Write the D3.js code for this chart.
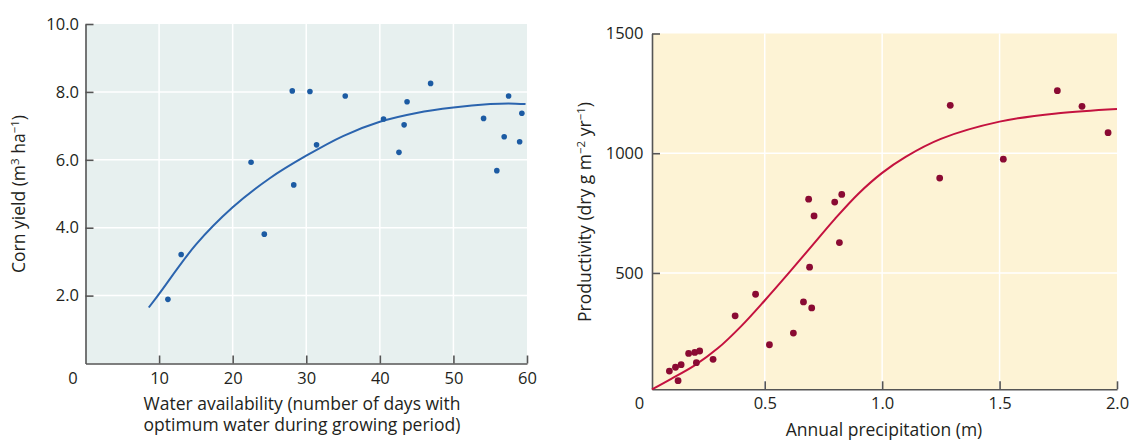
<!DOCTYPE html>
<html>
<head>
<meta charset="utf-8">
<script src="https://cdn.jsdelivr.net/npm/d3@7"></script>
<style>
  html, body { margin: 0; padding: 0; background: #ffffff; }
  svg { display: block; }
  text { font-family: "Open Sans", "Noto Sans", sans-serif; fill: #231f20; }
</style>
</head>
<body>
<svg id="chart" width="1129" height="441"></svg>
<script>
// ---------- Data: left panel (corn yield vs water availability) ----------
const cornDays  = [11.2, 13.0, 22.5, 24.3, 28.1, 28.3, 30.5, 31.4, 35.3, 40.5, 42.6, 43.3, 43.7, 46.9, 54.1, 55.9, 56.9, 57.5, 59.0, 59.3];
const cornYield = [1.89, 3.21, 5.93, 3.81, 8.03, 5.26, 8.01, 6.44, 7.88, 7.20, 6.22, 7.03, 7.71, 8.25, 7.22, 5.68, 6.68, 7.88, 6.53, 7.37];
const cornFitDays  = [8.6, 10, 15, 20, 25, 30, 35, 40, 45, 50, 55, 57.5, 59.8];
const cornFitYield = [1.65, 2.05, 3.5, 4.6, 5.45, 6.12, 6.7, 7.12, 7.38, 7.54, 7.64, 7.66, 7.64];
const cornXTicks = [10, 20, 30, 40, 50, 60];
const cornYTicks = [2, 4, 6, 8, 10];
const cornXDomain = [0, 60];
const cornYDomain = [0, 10];

// ---------- Data: right panel (productivity vs precipitation) ----------
const precip = [0.094, 0.120, 0.144, 0.131, 0.176, 0.202, 0.223, 0.209, 0.280, 0.374, 0.461, 0.520, 0.622, 0.665, 0.700, 0.691, 0.687, 0.710, 0.798, 0.828, 0.818, 1.245, 1.290, 1.516, 1.746, 1.851, 1.962];
const productivity = [90, 106, 117, 50, 164, 168, 174, 125, 139, 321, 411, 200, 249, 379, 354, 524, 808, 738, 796, 828, 627, 896, 1200, 975, 1261, 1196, 1086];
const prodFitPrecip = [0.02, 0.1, 0.2, 0.3, 0.4, 0.5, 0.6, 0.7, 0.8, 0.9, 1.0, 1.1, 1.25, 1.5, 1.75, 2.0];
const prodFitValue  = [14, 57, 113, 185, 278, 385, 497, 612, 727, 832, 918, 985, 1060, 1132, 1167, 1185];
const precipTicks = [0.5, 1.0, 1.5, 2.0];
const prodTicks = [500, 1000, 1500];
const precipDomain = [0.02, 2.0];
const prodDomain = [14, 1500];

const svg = d3.select("#chart");
const FS = 16.5;   // tick labels
const TS = 17.5;   // axis titles

function panel(cfg) {
  const g = svg.append("g");
  const x = d3.scaleLinear().domain(cfg.xDomain).range(cfg.xRange);
  const y = d3.scaleLinear().domain(cfg.yDomain).range(cfg.yRange);
  const [x0, x1] = cfg.xRange, [y0, y1] = cfg.yRange;

  g.append("rect").attr("x", x0).attr("y", y1).attr("width", x1 - x0).attr("height", y0 - y1).attr("fill", cfg.bg);

  // gridlines
  g.append("g").selectAll("line").data(cfg.xTicks.filter(t => x(t) < x1 - 1)).join("line")
    .attr("x1", d => x(d)).attr("x2", d => x(d)).attr("y1", y1).attr("y2", y0)
    .attr("stroke", "#ffffff").attr("stroke-width", 1.5);
  g.append("g").selectAll("line").data(cfg.yTicks.filter(t => y(t) > y1 + 1)).join("line")
    .attr("y1", d => y(d)).attr("y2", d => y(d)).attr("x1", x0).attr("x2", x1)
    .attr("stroke", "#ffffff").attr("stroke-width", 1.5);

  // axes
  const xa = g.append("g").attr("transform", `translate(0,${y0})`)
    .call(d3.axisBottom(x).tickValues(cfg.xTicks).tickFormat(cfg.xFmt).tickSize(-8).tickSizeOuter(0).tickPadding(cfg.xPad));
  const ya = g.append("g").attr("transform", `translate(${x0},0)`)
    .call(d3.axisLeft(y).tickValues(cfg.yTicks).tickFormat(cfg.yFmt).tickSize(-8).tickSizeOuter(0).tickPadding(cfg.yPad));
  [xa, ya].forEach(a => {
    a.select(".domain").attr("stroke", "#555555").attr("stroke-width", 1.6);
    a.selectAll(".tick line").attr("stroke", "#555555").attr("stroke-width", 1.6);
    a.selectAll(".tick text").attr("font-size", FS).attr("font-family", "Open Sans, Noto Sans, sans-serif").attr("fill", "#231f20");
  });

  // origin label
  g.append("text").attr("x", cfg.zero[0]).attr("y", cfg.zero[1]).attr("text-anchor", "middle")
    .attr("font-size", FS).text("0");

  // fit curve
  const pts = cfg.fitX.map((d, i) => [d, cfg.fitY[i]]);
  g.append("path").datum(pts)
    .attr("d", d3.line().x(d => x(d[0])).y(d => y(d[1])).curve(d3.curveCatmullRom.alpha(0.5)))
    .attr("fill", "none").attr("stroke", cfg.lineColor).attr("stroke-width", 2);

  // points
  g.append("g").selectAll("circle").data(cfg.px.map((d, i) => [d, cfg.py[i]])).join("circle")
    .attr("cx", d => x(d[0])).attr("cy", d => y(d[1])).attr("r", cfg.r).attr("fill", cfg.dotColor);
  return g;
}

panel({
  xDomain: cornXDomain, yDomain: cornYDomain, xRange: [85.5, 527], yRange: [363.5, 24],
  bg: "#e7f0ef", xTicks: cornXTicks, yTicks: cornYTicks,
  xFmt: d3.format("d"), yFmt: d3.format(".1f"), xPad: 8.5, yPad: 6.5,
  zero: [73, 384], fitX: cornFitDays, fitY: cornFitYield, px: cornDays, py: cornYield,
  lineColor: "#2b64ae", dotColor: "#1c5ba3", r: 2.8
});

panel({
  xDomain: precipDomain, yDomain: prodDomain, xRange: [652, 1117], yRange: [389.3, 33.5],
  bg: "#fdf3d5", xTicks: precipTicks, yTicks: prodTicks,
  xFmt: d3.format(".1f"), yFmt: d3.format("d"), xPad: 8, yPad: 8.5,
  zero: [639.5, 409], fitX: prodFitPrecip, fitY: prodFitValue, px: precip, py: productivity,
  lineColor: "#c4123f", dotColor: "#8a0a33", r: 3.4
});

// ---------- Axis titles ----------
const t1 = svg.append("text").attr("text-anchor", "middle").attr("font-size", TS);
t1.append("tspan").attr("x", 302).attr("y", 410).text("Water availability (number of days with");
t1.append("tspan").attr("x", 302).attr("y", 430.5).text("optimum water during growing period)");

svg.append("text").attr("x", 884).attr("y", 436).attr("text-anchor", "middle").attr("font-size", TS)
  .text("Annual precipitation (m)");

const yl = svg.append("text").attr("transform", "translate(25,194) rotate(-90)").attr("text-anchor", "middle").attr("font-size", TS);
yl.append("tspan").text("Corn yield (m");
yl.append("tspan").attr("dy", -6.5).attr("font-size", 11.5).text("3");
yl.append("tspan").attr("dy", 6.5).text(" ha");
yl.append("tspan").attr("dy", -6.5).attr("font-size", 11.5).text("−1");
yl.append("tspan").attr("dy", 6.5).text(")");

const yr = svg.append("text").attr("transform", "translate(591,212) rotate(-90)").attr("text-anchor", "middle").attr("font-size", TS);
yr.append("tspan").text("Productivity (dry g m");
yr.append("tspan").attr("dy", -6.5).attr("font-size", 11.5).text("−2");
yr.append("tspan").attr("dy", 6.5).text(" yr");
yr.append("tspan").attr("dy", -6.5).attr("font-size", 11.5).text("−1");
yr.append("tspan").attr("dy", 6.5).text(")");
</script>
</body>
</html>
